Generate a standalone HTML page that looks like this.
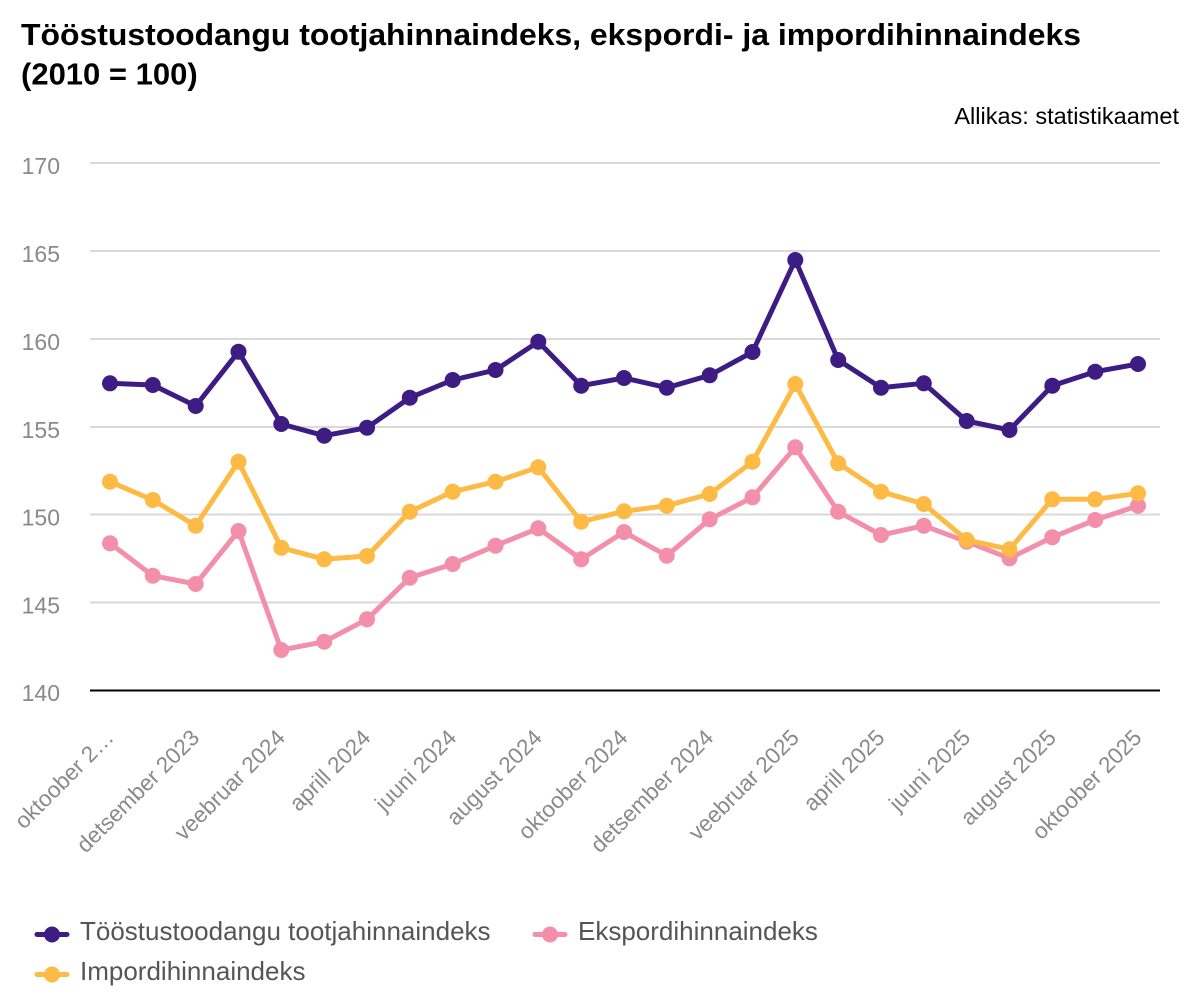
<!DOCTYPE html>
<html>
<head>
<meta charset="utf-8">
<style>
  html, body { margin: 0; padding: 0; background: #ffffff; }
  svg { display: block; }
  text { font-family: "Liberation Sans", Arial, sans-serif; }
</style>
</head>
<body>
<svg width="1200" height="1000" viewBox="0 0 1200 1000" xmlns="http://www.w3.org/2000/svg">
  <rect x="0" y="0" width="1200" height="1000" fill="#ffffff"/>

  <!-- Title -->
  <text x="21" y="45" font-size="31" font-weight="bold" fill="#000" textLength="1060" lengthAdjust="spacingAndGlyphs">Tööstustoodangu tootjahinnaindeks, ekspordi- ja impordihinnaindeks</text>
  <text x="21" y="84.5" font-size="31" font-weight="bold" fill="#000">(2010 = 100)</text>

  <!-- Source -->
  <text x="1179" y="124" font-size="23.5" fill="#000" text-anchor="end">Allikas: statistikaamet</text>

  <!-- Gridlines -->
  <g stroke="#d9d9d9" stroke-width="2">
    <line x1="90" y1="163" x2="1160" y2="163"/>
    <line x1="90" y1="251" x2="1160" y2="251"/>
    <line x1="90" y1="339" x2="1160" y2="339"/>
    <line x1="90" y1="427" x2="1160" y2="427"/>
    <line x1="90" y1="514.5" x2="1160" y2="514.5"/>
    <line x1="90" y1="602.5" x2="1160" y2="602.5"/>
  </g>
  <line x1="90" y1="690.5" x2="1160" y2="690.5" stroke="#000" stroke-width="2"/>

  <!-- Y labels -->
  <g font-size="23" fill="#8a8a8a" text-anchor="end">
    <text x="60" y="174">170</text>
    <text x="60" y="262">165</text>
    <text x="60" y="350">160</text>
    <text x="60" y="438">155</text>
    <text x="60" y="525.5">150</text>
    <text x="60" y="613.5">145</text>
    <text x="60" y="701">140</text>
  </g>

  <!-- X labels -->
  <g font-size="22.5" fill="#8a8a8a" text-anchor="end">
    <text x="115" y="739" transform="rotate(-45 115 739)">oktoober 2…</text>
    <text x="200.7" y="739" transform="rotate(-45 200.7 739)">detsember 2023</text>
    <text x="286.3" y="739" transform="rotate(-45 286.3 739)">veebruar 2024</text>
    <text x="372" y="739" transform="rotate(-45 372 739)">aprill 2024</text>
    <text x="457.7" y="739" transform="rotate(-45 457.7 739)">juuni 2024</text>
    <text x="543.3" y="739" transform="rotate(-45 543.3 739)">august 2024</text>
    <text x="629" y="739" transform="rotate(-45 629 739)">oktoober 2024</text>
    <text x="714.7" y="739" transform="rotate(-45 714.7 739)">detsember 2024</text>
    <text x="800.3" y="739" transform="rotate(-45 800.3 739)">veebruar 2025</text>
    <text x="886" y="739" transform="rotate(-45 886 739)">aprill 2025</text>
    <text x="971.7" y="739" transform="rotate(-45 971.7 739)">juuni 2025</text>
    <text x="1057.3" y="739" transform="rotate(-45 1057.3 739)">august 2025</text>
    <text x="1143" y="739" transform="rotate(-45 1143 739)">oktoober 2025</text>
  </g>

  <!-- Purple series -->
  <g>
    <polyline fill="none" stroke="#3d1c84" stroke-width="5" stroke-linejoin="round" stroke-linecap="round"
      points="110,383.3 152.8,385 195.7,406 238.5,351.7 281.3,424 324.2,435.7 367,427.7 409.8,397.7 452.7,380 495.5,370 538.3,341.7 581.2,385.7 624,378 666.8,387.7 709.7,375.3 752.5,352 795.3,260 838.2,360 881,387.7 923.8,383.3 966.7,421 1009.5,430 1052.3,385.7 1095.2,371.7 1138,364"/>
    <g fill="#3d1c84">
      <circle cx="110" cy="383.3" r="8"/><circle cx="152.8" cy="385" r="8"/><circle cx="195.7" cy="406" r="8"/><circle cx="238.5" cy="351.7" r="8"/><circle cx="281.3" cy="424" r="8"/><circle cx="324.2" cy="435.7" r="8"/><circle cx="367" cy="427.7" r="8"/><circle cx="409.8" cy="397.7" r="8"/><circle cx="452.7" cy="380" r="8"/><circle cx="495.5" cy="370" r="8"/><circle cx="538.3" cy="341.7" r="8"/><circle cx="581.2" cy="385.7" r="8"/><circle cx="624" cy="378" r="8"/><circle cx="666.8" cy="387.7" r="8"/><circle cx="709.7" cy="375.3" r="8"/><circle cx="752.5" cy="352" r="8"/><circle cx="795.3" cy="260" r="8"/><circle cx="838.2" cy="360" r="8"/><circle cx="881" cy="387.7" r="8"/><circle cx="923.8" cy="383.3" r="8"/><circle cx="966.7" cy="421" r="8"/><circle cx="1009.5" cy="430" r="8"/><circle cx="1052.3" cy="385.7" r="8"/><circle cx="1095.2" cy="371.7" r="8"/><circle cx="1138" cy="364" r="8"/>
    </g>
  </g>

  <!-- Pink series -->
  <g>
    <polyline fill="none" stroke="#f38fab" stroke-width="5" stroke-linejoin="round" stroke-linecap="round"
      points="110,543.3 152.8,575.7 195.7,584 238.5,531 281.3,650 324.2,641.7 367,619.3 409.8,577.7 452.7,564 495.5,545.7 538.3,528.3 581.2,559.3 624,532 666.8,555.7 709.7,519.3 752.5,497.3 795.3,447.3 838.2,511.7 881,535 923.8,525.7 966.7,541.7 1009.5,558.3 1052.3,537.3 1095.2,520 1138,505.7"/>
    <g fill="#f38fab">
      <circle cx="110" cy="543.3" r="8"/><circle cx="152.8" cy="575.7" r="8"/><circle cx="195.7" cy="584" r="8"/><circle cx="238.5" cy="531" r="8"/><circle cx="281.3" cy="650" r="8"/><circle cx="324.2" cy="641.7" r="8"/><circle cx="367" cy="619.3" r="8"/><circle cx="409.8" cy="577.7" r="8"/><circle cx="452.7" cy="564" r="8"/><circle cx="495.5" cy="545.7" r="8"/><circle cx="538.3" cy="528.3" r="8"/><circle cx="581.2" cy="559.3" r="8"/><circle cx="624" cy="532" r="8"/><circle cx="666.8" cy="555.7" r="8"/><circle cx="709.7" cy="519.3" r="8"/><circle cx="752.5" cy="497.3" r="8"/><circle cx="795.3" cy="447.3" r="8"/><circle cx="838.2" cy="511.7" r="8"/><circle cx="881" cy="535" r="8"/><circle cx="923.8" cy="525.7" r="8"/><circle cx="966.7" cy="541.7" r="8"/><circle cx="1009.5" cy="558.3" r="8"/><circle cx="1052.3" cy="537.3" r="8"/><circle cx="1095.2" cy="520" r="8"/><circle cx="1138" cy="505.7" r="8"/>
    </g>
  </g>

  <!-- Yellow series -->
  <g>
    <polyline fill="none" stroke="#fdba45" stroke-width="5" stroke-linejoin="round" stroke-linecap="round"
      points="110,481.7 152.8,500 195.7,525.7 238.5,461.7 281.3,547.7 324.2,559.3 367,556 409.8,511.7 452.7,491.7 495.5,481.7 538.3,467.3 581.2,521.7 624,511.3 666.8,505.7 709.7,494 752.5,461.7 795.3,384 838.2,463.3 881,491.7 923.8,504 966.7,540 1009.5,549.3 1052.3,499.3 1095.2,499.3 1138,493.3"/>
    <g fill="#fdba45">
      <circle cx="110" cy="481.7" r="8"/><circle cx="152.8" cy="500" r="8"/><circle cx="195.7" cy="525.7" r="8"/><circle cx="238.5" cy="461.7" r="8"/><circle cx="281.3" cy="547.7" r="8"/><circle cx="324.2" cy="559.3" r="8"/><circle cx="367" cy="556" r="8"/><circle cx="409.8" cy="511.7" r="8"/><circle cx="452.7" cy="491.7" r="8"/><circle cx="495.5" cy="481.7" r="8"/><circle cx="538.3" cy="467.3" r="8"/><circle cx="581.2" cy="521.7" r="8"/><circle cx="624" cy="511.3" r="8"/><circle cx="666.8" cy="505.7" r="8"/><circle cx="709.7" cy="494" r="8"/><circle cx="752.5" cy="461.7" r="8"/><circle cx="795.3" cy="384" r="8"/><circle cx="838.2" cy="463.3" r="8"/><circle cx="881" cy="491.7" r="8"/><circle cx="923.8" cy="504" r="8"/><circle cx="966.7" cy="540" r="8"/><circle cx="1009.5" cy="549.3" r="8"/><circle cx="1052.3" cy="499.3" r="8"/><circle cx="1095.2" cy="499.3" r="8"/><circle cx="1138" cy="493.3" r="8"/>
    </g>
  </g>

  <!-- Legend -->
  <g>
    <line x1="37" y1="934.5" x2="67" y2="934.5" stroke="#3d1c84" stroke-width="5" stroke-linecap="round"/>
    <circle cx="52" cy="934.5" r="8" fill="#3d1c84"/>
    <text x="80" y="940" font-size="26" fill="#555555">Tööstustoodangu tootjahinnaindeks</text>

    <line x1="535" y1="934.5" x2="565" y2="934.5" stroke="#f38fab" stroke-width="5" stroke-linecap="round"/>
    <circle cx="550" cy="934.5" r="8" fill="#f38fab"/>
    <text x="578" y="940" font-size="26" fill="#555555">Ekspordihinnaindeks</text>

    <line x1="37" y1="974.5" x2="67" y2="974.5" stroke="#fdba45" stroke-width="5" stroke-linecap="round"/>
    <circle cx="52" cy="974.5" r="8" fill="#fdba45"/>
    <text x="80" y="980" font-size="26" fill="#555555">Impordihinnaindeks</text>
  </g>
</svg>
</body>
</html>
